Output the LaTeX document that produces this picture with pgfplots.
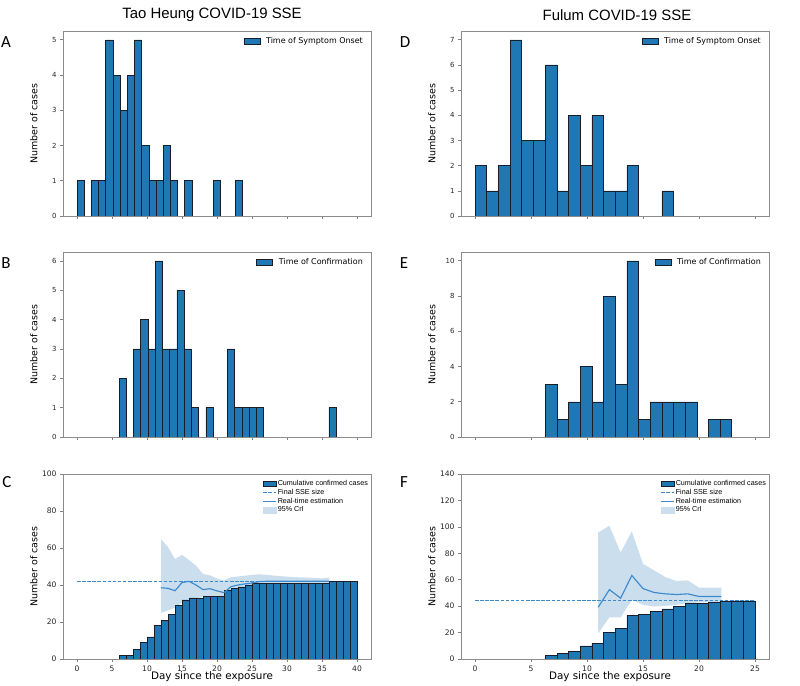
\documentclass[border=0pt]{standalone}
\usepackage{pgfplots}
\pgfplotsset{compat=1.18}
\usepackage{fontspec}
\setmainfont{DejaVu Sans}
\newfontfamily\lib{Liberation Sans}
\newfontfamily\carl{Carlito}
\definecolor{tabblue}{RGB}{31,119,180}
\definecolor{linec}{RGB}{60,138,206}
\definecolor{bandc}{RGB}{203,222,238}
\definecolor{edgec}{RGB}{25,30,40}
\tikzset{
  dashl/.style={draw=linec, line width=1.15bp, dash pattern=on 3.5bp off 1.6bp},
  solidl/.style={draw=linec, line width=1.15bp},
}
\pgfplotsset{
  base/.style={
    scale only axis, width=308bp, height=185bp, anchor=south west,
    enlargelimits=false, ymin=0,
    axis line style={draw=black!45, line width=0.6bp},
    tick style={draw=black!50, line width=0.6bp},
    major tick length=3bp, tick align=outside,
    xtick pos=bottom, ytick pos=left,
    /pgf/number format/assume math mode=true,
    tick label style={font=\fontsize{7}{8}\selectfont, text=black!85},
    ylabel={Number of cases},
    every axis y label/.style={at={(axis description cs:0,0.5)}, rotate=90, anchor=south, yshift=22bp, font=\fontsize{9.5}{11}\selectfont},
    legend cell align=left,
  },
  leftx/.style={xmin=-2, xmax=42, xtick={0,5,...,40}},
  rightx/.style={xmin=-1.25, xmax=26.25, xtick={0,5,...,25}},
  toplegend/.style={legend style={at={(rel axis cs:1,1)}, xshift=-7bp, yshift=-5bp, anchor=north east, draw=none, fill=none, inner sep=0pt, font=\fontsize{8}{9}\selectfont, nodes={inner sep=1bp, text height=6bp, text depth=1.7bp}}},
  botlegend/.style={legend style={at={(rel axis cs:1,1)}, xshift=-2bp, yshift=-5bp, anchor=north east, draw=none, fill=none, inner sep=0pt, font=\lib\fontsize{7.2}{8}\selectfont, nodes={inner sep=0.9bp, text height=5.4bp, text depth=1.6bp}}},
  xlab/.style={xlabel={Day since the exposure},
    every axis x label/.style={at={(axis description cs:0.5,0)}, anchor=center, yshift=-18bp, xshift=-5bp, font=\fontsize{10.4}{12}\selectfont}},
  histbar/.style={ybar, bar shift=0pt, fill=tabblue, draw=edgec, line width=0.5bp},
  barleg/.style={legend image code/.code={\draw[fill=tabblue,draw=edgec,line width=0.5bp] (0bp,-2.8bp) rectangle (16bp,2.8bp); \path (21bp,0bp);}},
}
\begin{document}
\begin{tikzpicture}[x=1bp,y=1bp]
\useasboundingbox (0,0) rectangle (800,686);

% ---------------- A ----------------
\begin{axis}[base, leftx, toplegend, at={(63bp,470bp)}, xticklabels={}, ymax=5.25, ytick={0,1,...,5}]
\addplot[histbar, bar width=1.026, barleg] coordinates {
(0.513,1) (2.565,1) (3.591,1) (4.617,5) (5.643,4) (6.669,3) (7.695,4) (8.721,5)
(9.747,2) (10.773,1) (11.799,1) (12.825,2) (13.851,1) (15.903,1) (20.007,1) (23.085,1)};
\addlegendentry{Time of Symptom Onset}
\end{axis}

% ---------------- B ----------------
\begin{axis}[base, leftx, toplegend, at={(63bp,249bp)}, xticklabels={}, ymax=6.3, ytick={0,1,...,6}]
\addplot[histbar, bar width=1.0333, barleg] coordinates {
(6.517,2) (8.583,3) (9.617,4) (10.650,3) (11.683,6) (12.717,3) (13.750,3) (14.783,5)
(15.817,3) (16.850,1) (18.917,1) (22.017,3) (23.050,1) (24.083,1) (25.117,1) (26.150,1) (36.483,1)};
\addlegendentry{Time of Confirmation}
\end{axis}

% ---------------- C ----------------
\begin{axis}[base, leftx, botlegend, xlab, at={(63bp,27bp)}, ymax=100, ytick={0,20,...,100},
  tick label style={font=\fontsize{7.6}{9}\selectfont, text=black!85}]
\addplot[fill=bandc, draw=none, forget plot] coordinates {
(12,64.8) (13,60.5) (14,54) (15,56.3) (16,53.5) (17,50.5) (18,46) (19,45.2) (20,43.5) (21,42.5)
(22,44.2) (23,44.6) (24,45) (25,45.5) (26,45.8) (27,45.5) (28,45.1) (29,44.8) (30,44.5) (31,44.3)
(32,44.1) (33,44) (34,43.8) (35,43.6) (36,44)
(36,41) (35,41) (34,41) (33,41) (32,41) (31,41) (30,41) (29,41) (28,41) (27,41) (26,40.6) (25,39.9)
(24,39.2) (23,38.3) (22,37.4) (21,34) (20,34.1) (19,34.1) (18,33.8) (17,32.9) (16,31.6) (15,30.5)
(14,27.7) (13,26.3) (12,24.9) (12,64.8)};
\addplot[histbar, bar width=1, forget plot] coordinates {
(6.5,2) (7.5,2) (8.5,5) (9.5,9) (10.5,12) (11.5,18) (12.5,21) (13.5,24) (14.5,29) (15.5,32)
(16.5,33) (17.5,33) (18.5,34) (19.5,34) (20.5,34) (21.5,37) (22.5,38) (23.5,39) (24.5,40) (25.5,41)
(26.5,41) (27.5,41) (28.5,41) (29.5,41) (30.5,41) (31.5,41) (32.5,41) (33.5,41) (34.5,41) (35.5,41)
(36.5,42) (37.5,42) (38.5,42) (39.5,42)};
\addplot[dashl, forget plot] coordinates {(0,42) (36,42)};
\addplot[solidl, forget plot] coordinates {
(12,38.5) (13,38.2) (14,36.9) (15,41.3) (16,42) (17,40) (18,37.5) (19,38) (20,36.8) (21,35.9)
(22,39.1) (23,40) (24,40.6) (25,41.1) (26,41.8) (27,42) (28,42) (29,42) (30,42) (31,42) (32,42)
(33,42) (34,42) (35,42) (36,42)};
\addlegendimage{legend image code/.code={\draw[fill=tabblue,draw=edgec,line width=0.5bp] (0bp,-2.3bp) rectangle (13bp,2.3bp);}}
\addlegendentry{Cumulative confirmed cases}
\addlegendimage{legend image code/.code={\draw[dashl] (0bp,0bp) -- (13bp,0bp);}}
\addlegendentry{Final SSE size}
\addlegendimage{legend image code/.code={\draw[solidl] (0bp,0bp) -- (13bp,0bp);}}
\addlegendentry{Real-time estimation}
\addlegendimage{legend image code/.code={\fill[bandc] (0bp,-2.8bp) rectangle (13bp,2.8bp);}}
\addlegendentry{95\% CrI}
\end{axis}

% ---------------- D ----------------
\begin{axis}[base, rightx, toplegend, at={(461bp,470bp)}, xticklabels={}, ymax=7.35, ytick={0,1,...,7}]
\addplot[histbar, bar width=1.043, barleg] coordinates {
(0.522,2) (1.565,1) (2.608,2) (3.651,7) (4.694,3) (5.737,3) (6.780,6) (7.823,1)
(8.866,4) (9.909,2) (10.952,4) (11.995,1) (13.038,1) (14.081,2) (17.210,1)};
\addlegendentry{Time of Symptom Onset}
\end{axis}

% ---------------- E ----------------
\begin{axis}[base, rightx, toplegend, at={(461bp,249bp)}, xticklabels={}, ymax=10.5, ytick={0,2,...,10}]
\addplot[histbar, bar width=1.04, barleg] coordinates {
(6.80,3) (7.84,1) (8.88,2) (9.92,4) (10.96,2) (12.00,8) (13.04,3) (14.08,10)
(15.12,1) (16.16,2) (17.20,2) (18.24,2) (19.28,2) (21.36,1) (22.40,1)};
\addlegendentry{Time of Confirmation}
\end{axis}

% ---------------- F ----------------
\begin{axis}[base, rightx, botlegend, xlab, at={(461bp,27bp)}, ymax=140, ytick={0,20,...,140},
  tick label style={font=\fontsize{7.6}{9}\selectfont, text=black!85}]
\addplot[fill=bandc, draw=none, forget plot] coordinates {
(11,95.8) (12,100.8) (13,80.6) (14,96.5) (15,72) (16,67) (17,62) (18,59) (19,59.5) (20,54) (21,54) (22,54)
(22,43.2) (21,43.2) (20,42.7) (19,42.2) (18,41) (17,40.2) (16,39.7) (15,41) (14,44.7) (13,31.5)
(12,31.5) (11,19.5) (11,95.8)};
\addplot[histbar, bar width=1.04, forget plot] coordinates {
(6.80,3) (7.84,4) (8.88,6) (9.92,10) (10.96,12) (12.00,20) (13.04,23) (14.08,33) (15.12,34)
(16.16,36) (17.20,38) (18.24,40) (19.28,42) (20.32,42) (21.36,43) (22.40,44) (23.44,44) (24.48,44)};
\addplot[dashl, forget plot] coordinates {(0,44) (25,44)};
\addplot[solidl, forget plot] coordinates {
(11,39.2) (12,52.5) (13,46) (14,63.2) (15,53.3) (16,50.3) (17,49.3) (18,48.8) (19,49.3) (20,47.3) (21,47.3) (22,47.3)};
\addlegendimage{legend image code/.code={\draw[fill=tabblue,draw=edgec,line width=0.5bp] (0bp,-2.3bp) rectangle (13bp,2.3bp);}}
\addlegendentry{Cumulative confirmed cases}
\addlegendimage{legend image code/.code={\draw[dashl] (0bp,0bp) -- (13bp,0bp);}}
\addlegendentry{Final SSE size}
\addlegendimage{legend image code/.code={\draw[solidl] (0bp,0bp) -- (13bp,0bp);}}
\addlegendentry{Real-time estimation}
\addlegendimage{legend image code/.code={\fill[bandc] (0bp,-2.8bp) rectangle (13bp,2.8bp);}}
\addlegendentry{95\% CrI}
\end{axis}

% titles and panel letters
\node[font=\lib\fontsize{15}{18}\selectfont] at (212,671) {Tao Heung COVID-19 SSE};
\node[font=\lib\fontsize{15}{18}\selectfont] at (617,671) {Fulum COVID-19 SSE};
\node[font=\carl\fontsize{17}{20}\selectfont] at (6,644) {A};
\node[font=\carl\fontsize{17}{20}\selectfont] at (6,423) {B};
\node[font=\carl\fontsize{17}{20}\selectfont] at (7,204) {C};
\node[font=\carl\fontsize{17}{20}\selectfont] at (405,644) {D};
\node[font=\carl\fontsize{17}{20}\selectfont] at (404,423) {E};
\node[font=\carl\fontsize{17}{20}\selectfont] at (404,204) {F};
\end{tikzpicture}
\end{document}
